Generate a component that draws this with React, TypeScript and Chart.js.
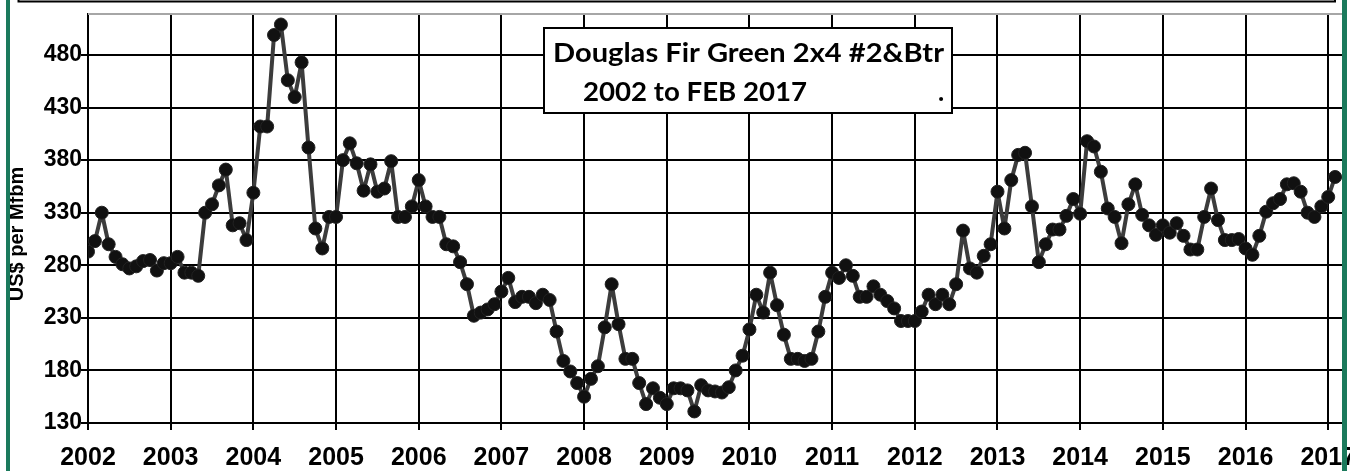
import React, { useEffect, useRef } from 'react';
import { Chart, registerables } from 'chart.js';

Chart.register(...registerables);

// ---- Data (US$ per Mfbm, monthly, Jan 2002 .. Feb 2017) ----
const years = ['2002', '2003', '2004', '2005', '2006', '2007', '2008', '2009', '2010', '2011', '2012', '2013', '2014', '2015', '2016', '2017'];
const p2002 = [293, 303, 330, 300, 288, 281, 277, 279, 284, 285, 275, 282];
const p2003 = [282, 288, 273, 273, 270, 330, 338, 356, 371, 318, 320, 304];
const p2004 = [349, 412, 412, 499, 509, 456, 440, 473, 392, 315, 296, 326];
const p2005 = [326, 380, 396, 377, 351, 376, 350, 353, 379, 326, 326, 336];
const p2006 = [361, 336, 326, 326, 300, 298, 283, 262, 232, 235, 238, 243];
const p2007 = [255, 268, 245, 250, 250, 244, 252, 247, 217, 189, 179, 168];
const p2008 = [155, 172, 184, 221, 262, 224, 191, 191, 168, 148, 163, 154];
const p2009 = [148, 163, 163, 161, 141, 166, 161, 160, 159, 164, 180, 194];
const p2010 = [219, 252, 235, 273, 242, 214, 191, 191, 189, 191, 217, 250];
const p2011 = [273, 268, 280, 270, 250, 250, 260, 252, 246, 239, 227, 227];
const p2012 = [227, 236, 252, 243, 252, 243, 262, 313, 277, 273, 289, 300];
const p2013 = [350, 315, 361, 385, 387, 336, 283, 300, 314, 314, 327, 343];
const p2014 = [329, 398, 393, 369, 334, 326, 301, 338, 357, 328, 318, 309];
const p2015 = [318, 311, 320, 308, 295, 295, 326, 353, 323, 304, 304, 305];
const p2016 = [296, 290, 308, 331, 339, 343, 357, 358, 350, 330, 326, 336];
const p2017 = [345, 364];
const yTickValues = [130, 180, 230, 280, 330, 380, 430, 480];

const titleLine1 = 'Douglas Fir Green 2x4 #2&Btr';
const titleLine2 = '2002 to FEB 2017';
const yAxisTitle = 'US$ per Mfbm';

const prices = [
  ...p2002, ...p2003, ...p2004, ...p2005, ...p2006, ...p2007, ...p2008, ...p2009,
  ...p2010, ...p2011, ...p2012, ...p2013, ...p2014, ...p2015, ...p2016, ...p2017,
];

const W = 1350;
const H = 471;
const GREEN = '#1b7a5c';
const NUM = '"Liberation Sans", Arial, sans-serif';
const TITLE_FONT = 'Lato, "Open Sans", sans-serif';

function drawScaled(ctx: CanvasRenderingContext2D, text: string, x: number, baseline: number, targetWidth: number) {
  const w = ctx.measureText(text).width;
  ctx.save();
  ctx.translate(x, baseline);
  ctx.scale(targetWidth / w, 1);
  ctx.textAlign = 'left';
  ctx.textBaseline = 'alphabetic';
  ctx.fillText(text, 0, 0);
  ctx.restore();
}

const decorPlugin = {
  id: 'decor',
  beforeDraw(chart: any) {
    const ctx = chart.ctx as CanvasRenderingContext2D;
    ctx.save();
    ctx.fillStyle = '#ffffff';
    ctx.fillRect(0, 0, W, H);
    ctx.restore();
  },
  afterDraw(chart: any) {
    const ctx = chart.ctx as CanvasRenderingContext2D;
    const a = chart.chartArea;
    ctx.save();
    // grey top border of plot area
    ctx.strokeStyle = '#a6a6a6';
    ctx.lineWidth = 2;
    ctx.beginPath();
    ctx.moveTo(a.left, a.top);
    ctx.lineTo(a.right, a.top);
    ctx.stroke();

    // outer frame remnant at top
    ctx.strokeStyle = '#000';
    ctx.lineWidth = 2;
    ctx.beginPath();
    ctx.moveTo(18.5, -2);
    ctx.lineTo(18.5, 1.5);
    ctx.lineTo(1335, 1.5);
    ctx.lineTo(1335, -2);
    ctx.stroke();

    // title box
    const bx = 544, by = 28, bw = 408, bh = 85;
    ctx.fillStyle = '#fff';
    ctx.fillRect(bx, by, bw, bh);
    ctx.strokeStyle = '#000';
    ctx.lineWidth = 2;
    ctx.strokeRect(bx, by, bw, bh);
    ctx.fillStyle = '#000';
    ctx.font = `bold 26px ${TITLE_FONT}`;
    drawScaled(ctx, titleLine1, 553, 62, 391);
    drawScaled(ctx, titleLine2, 583, 101, 224);
    ctx.fillText('.', 938, 101);

    // y axis title
    ctx.save();
    ctx.translate(23, 234);
    ctx.rotate(-Math.PI / 2);
    ctx.font = `bold 20px ${NUM}`;
    ctx.textAlign = 'center';
    ctx.textBaseline = 'alphabetic';
    ctx.fillStyle = '#000';
    ctx.fillText(yAxisTitle, 0, 0);
    ctx.restore();

    // green side rules
    ctx.fillStyle = GREEN;
    ctx.fillRect(6, 0, 4, H);
    ctx.fillRect(1342, 0, 5, H);
    ctx.restore();
  },
};

export default function App() {
  const ref = useRef<HTMLCanvasElement | null>(null);

  useEffect(() => {
    if (!ref.current) return;
    const points = prices.map((v, i) => ({ x: i, y: v }));
    const chart = new Chart(ref.current, {
      type: 'line',
      data: {
        datasets: [
          {
            data: points,
            borderColor: '#3c3c3c',
            borderWidth: 4,
            borderJoinStyle: 'round',
            borderCapStyle: 'round',
            pointRadius: 6.5,
            pointHoverRadius: 6.5,
            pointBackgroundColor: '#111111',
            pointBorderColor: '#222222',
            pointBorderWidth: 1,
            tension: 0,
          },
        ],
      },
      options: {
        responsive: false,
        animation: false,
        devicePixelRatio: 1,
        layout: { padding: { top: 14, right: 8, left: 0, bottom: 0 } },
        plugins: {
          legend: { display: false },
          tooltip: { enabled: false },
          title: { display: false },
        },
        scales: {
          x: {
            type: 'linear',
            min: 0,
            max: 182,
            afterBuildTicks: (s: any) => {
              s.ticks = years.map((_, i) => ({ value: i * 12 }));
            },
            afterFit: (s: any) => {
              s.height = 48;
              s.paddingLeft = 0;
              s.paddingRight = 0;
            },
            grid: { color: '#000', lineWidth: 2, drawTicks: true, tickLength: 7, tickColor: '#000' },
            border: { display: true, color: '#000', width: 2 },
            ticks: {
              autoSkip: false,
              maxRotation: 0,
              minRotation: 0,
              padding: 13,
              color: '#000',
              font: { family: NUM, size: 25, weight: 'bold' },
              callback: (v: any) => years[Math.round(Number(v) / 12)] ?? '',
            },
          },
          y: {
            type: 'linear',
            min: 130,
            max: 519,
            afterBuildTicks: (s: any) => {
              s.ticks = yTickValues.map((v) => ({ value: v }));
            },
            afterFit: (s: any) => {
              s.width = 88;
              s.paddingTop = 0;
              s.paddingBottom = 0;
            },
            grid: { color: '#000', lineWidth: 2, drawTicks: true, tickLength: 7, tickColor: '#000' },
            border: { display: true, color: '#000', width: 2 },
            ticks: {
              padding: -1,
              color: '#000',
              font: { family: NUM, size: 23, weight: 'bold' },
              callback: (v: any) => String(v),
            },
          },
        },
      },
      plugins: [decorPlugin],
    });
    return () => chart.destroy();
  }, []);

  return (
    <div style={{ position: 'absolute', left: 0, top: 0, width: W, height: H }}>
      <canvas ref={ref} width={W} height={H} style={{ display: 'block', width: W, height: H }} />
    </div>
  );
}
